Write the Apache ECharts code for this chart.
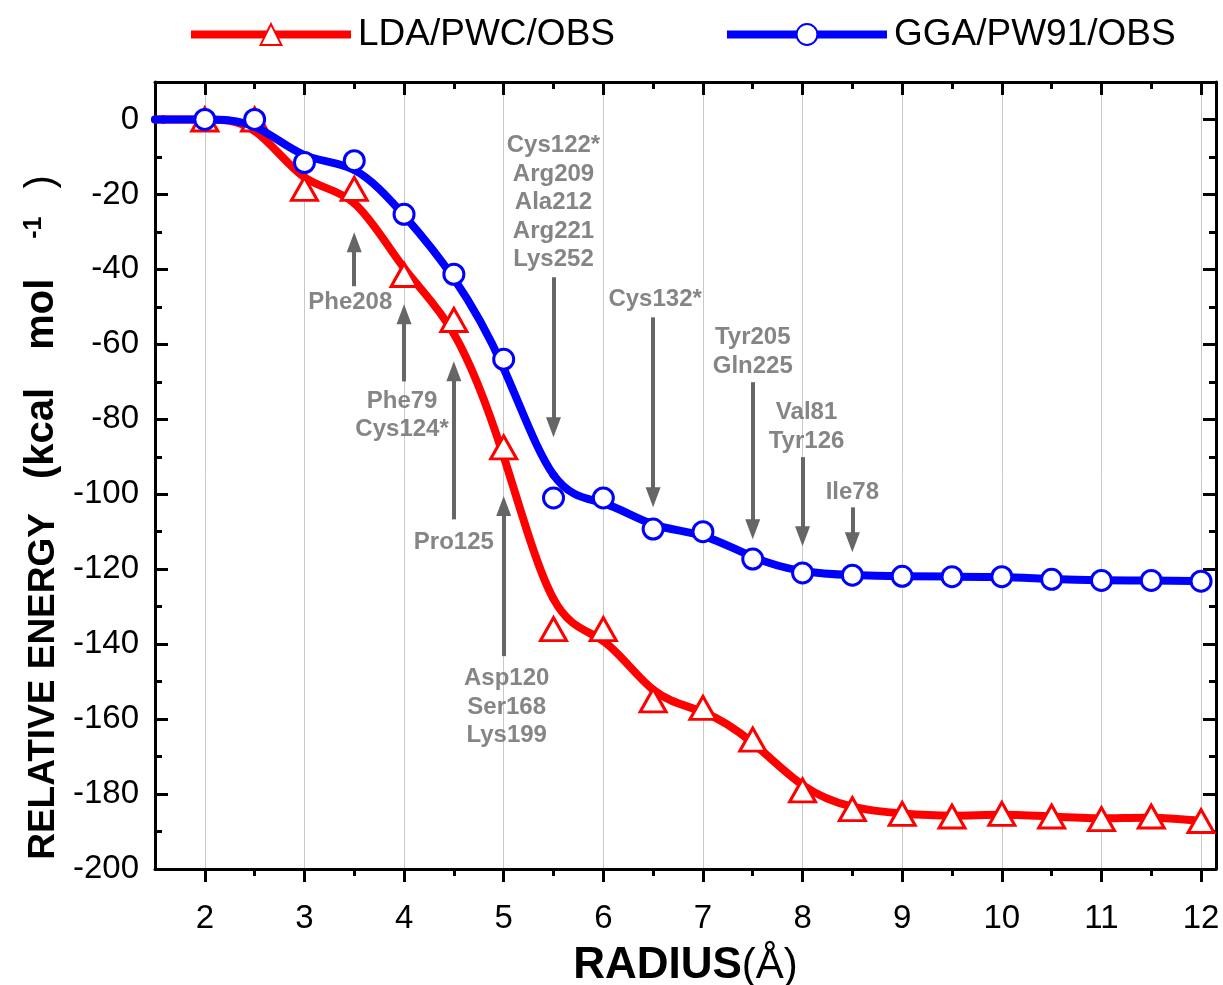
<!DOCTYPE html>
<html>
<head>
<meta charset="utf-8">
<title>Relative energy vs radius</title>
<script src="https://cdn.jsdelivr.net/npm/echarts@6/dist/echarts.min.js"></script>
<style>
  html, body { margin: 0; padding: 0; background: #fff; }
  #chart { width: 1223px; height: 985px; }
</style>
</head>
<body>
<div id="chart"></div>
<script>
// Shell radius (Å) and relative energies (kcal/mol) for the two functionals
const radius = [2, 2.5, 3, 3.5, 4, 4.5, 5, 5.5, 6, 6.5, 7, 7.5, 8, 8.5, 9, 9.5, 10, 10.5, 11, 11.5, 12];
const ldaEnergy = [0, 0, -18.5, -18.5, -41.5, -53.5, -87.5, -136, -136, -155, -157, -165.5, -179, -184, -185.3, -186, -185.3, -186, -186.7, -186, -187.2];
const ggaEnergy = [0, 0, -11.5, -11, -25.3, -41.3, -64, -101, -101, -109.3, -110, -117.3, -121, -121.6, -121.9, -122, -122, -122.7, -123, -123, -123.2];
// both curves start flat at the left edge of the axis
const curveStart = 1.5;

const seriesNames = ['LDA/PWC/OBS', 'GGA/PW91/OBS'];
const RED = '#ff0000', BLUE = '#0000ff', GREY = '#666666';

// axis ticks
const xMajorTicks = [2, 3, 4, 5, 6, 7, 8, 9, 10, 11, 12];
const xMinorTicks = [2.5, 3.5, 4.5, 5.5, 6.5, 7.5, 8.5, 9.5, 10.5, 11.5];
const yMajorTicks = [-200, -180, -160, -140, -120, -100, -80, -60, -40, -20, 0];
const yMinorTicks = [-190, -170, -150, -130, -110, -90, -70, -50, -30, -10];

// residues entering the shell: arrow radius, arrow tail/tip energy, label anchor
const siteLabels = ['Phe208', 'Phe79\nCys124*', 'Pro125', 'Asp120\nSer168\nLys199',
  'Cys122*\nArg209\nAla212\nArg221\nLys252', 'Cys132*', 'Tyr205\nGln225', 'Val81\nTyr126', 'Ile78'];
const siteRadius = [3.5, 4, 4.5, 5, 5.5, 6.5, 7.5, 8, 8.5];
const arrowTail = [-44.5, -69.9, -106.7, -143.2, -42.1, -52.8, -70.1, -90.1, -103.5];
const arrowTip = [-30.1, -49.3, -64.5, -100.5, -84.8, -103.5, -112, -113.9, -115.5];
const labelRadius = [3.46, 3.98, 4.5, 5.03, 5.5, 6.52, 7.5, 8.04, 8.5];
const labelEnergy = [-48.8, -79, -112.8, -156.8, -22.2, -48, -62, -82, -99.5];

const FONT = "'Liberation Sans', Arial, sans-serif";
const X_MIN = 1.5, X_MAX = 12.15, Y_MIN = -200, Y_MAX = 10;
const ARROW_HEAD = [15, 20];            // px
const PX_PER_UNIT = 787 / (Y_MAX - Y_MIN); // grid height / energy span
const headHalf = ARROW_HEAD[1] / 2 / PX_PER_UNIT;

function curvePoints(values) {
  return [[curveStart, values[0]]].concat(radius.map((r, i) => [r, values[i]]));
}
function markerPoints(values) {
  return radius.map((r, i) => [r, values[i]]);
}

// Uniform cubic B-spline with the data points as control points
// (ends clamped), drawn as a chain of Bezier segments.
function bSplineRenderer(points, color) {
  return function (params, api) {
    if (params.dataIndex !== 0) return null;
    const p = points.map(d => api.coord(d));
    const c = [p[0], p[0]].concat(p, [p[p.length - 1], p[p.length - 1]]);
    const children = [];
    for (let i = 1; i < c.length - 2; i++) {
      const a = c[i - 1], b = c[i], d = c[i + 1], e = c[i + 2];
      children.push({
        type: 'bezierCurve',
        shape: {
          x1: (a[0] + 4 * b[0] + d[0]) / 6, y1: (a[1] + 4 * b[1] + d[1]) / 6,
          cpx1: (2 * b[0] + d[0]) / 3, cpy1: (2 * b[1] + d[1]) / 3,
          cpx2: (b[0] + 2 * d[0]) / 3, cpy2: (b[1] + 2 * d[1]) / 3,
          x2: (b[0] + 4 * d[0] + e[0]) / 6, y2: (b[1] + 4 * d[1] + e[1]) / 6
        },
        style: { stroke: color, lineWidth: 8, fill: null, lineCap: 'round', lineJoin: 'round' },
        silent: true
      });
    }
    return { type: 'group', children: children };
  };
}

const arrows = siteRadius.map((r, i) => {
  const dir = arrowTip[i] > arrowTail[i] ? 1 : -1;
  return [{ coord: [r, arrowTail[i]] }, { coord: [r, arrowTip[i] - dir * headHalf] }];
});
const siteText = siteLabels.map((t, i) => [labelRadius[i], labelEnergy[i], t]);

const axisLineStyle = { show: true, onZero: false, lineStyle: { color: '#000', width: 3 } };
const tickStyle = { color: '#000', width: 3 };

function xAxisOf(position, ticks, len, inside, extra) {
  return Object.assign({
    type: 'value', min: X_MIN, max: X_MAX, position: position,
    axisLine: axisLineStyle,
    axisTick: { show: true, customValues: ticks, length: len, inside: inside, lineStyle: tickStyle },
    axisLabel: { show: false },
    splitLine: { show: false }
  }, extra || {});
}
function yAxisOf(position, ticks, len, extra) {
  return Object.assign({
    type: 'value', min: Y_MIN, max: Y_MAX, position: position,
    axisLine: axisLineStyle,
    axisTick: { show: true, customValues: ticks, length: len, inside: true, lineStyle: tickStyle },
    axisLabel: { show: false },
    splitLine: { show: false }
  }, extra || {});
}

const ldaCurve = curvePoints(ldaEnergy);
const ggaCurve = curvePoints(ggaEnergy);

const chart = echarts.init(document.getElementById('chart'), null, { renderer: 'canvas' });

chart.setOption({
  backgroundColor: '#fff',
  animation: false,
  textStyle: { fontFamily: FONT },
  grid: { left: 155, right: 7, top: 82, bottom: 116, containLabel: false, outerBoundsMode: 'none' },
  legend: {
    data: [
      { name: seriesNames[0], lineStyle: { color: RED, width: 8, opacity: 1 } },
      { name: seriesNames[1], lineStyle: { color: BLUE, width: 8, opacity: 1 } }
    ],
    left: 182, top: 11,
    itemWidth: 160, itemHeight: 26, itemGap: 108,
    textStyle: { fontSize: 37, color: '#000', fontFamily: FONT, padding: [0, 0, 0, 2] }
  },
  xAxis: [
    xAxisOf('bottom', xMajorTicks, 13, false, {
      axisLabel: { show: true, customValues: xMajorTicks, fontSize: 33, color: '#000', margin: 33, fontFamily: FONT },
      splitLine: { show: true, lineStyle: { color: '#c8c8c8', width: 1 } },
      name: '{b|RADIUS}{n|(Å)}',
      nameLocation: 'middle', nameGap: 75,
      nameTextStyle: {
        rich: {
          b: { fontSize: 44, fontWeight: 'bold', color: '#000', fontFamily: FONT },
          n: { fontSize: 42, color: '#000', fontFamily: FONT }
        }
      }
    }),
    xAxisOf('bottom', xMinorTicks, 7, false, { axisLine: { show: false, onZero: false } }),
    xAxisOf('top', xMajorTicks, 13, true),
    xAxisOf('top', xMinorTicks, 7, true, { axisLine: { show: false, onZero: false } })
  ],
  yAxis: [
    yAxisOf('left', yMajorTicks, 13, {
      axisLabel: { show: true, customValues: yMajorTicks, fontSize: 33, color: '#000', margin: 16, fontFamily: FONT },
      name: '{b|RELATIVE ENERGY}{k|(kcal}{m|mol}{s|-1}{p|)}',
      nameLocation: 'middle', nameRotate: 90, nameGap: 92,
      nameTextStyle: {
        rich: {
          b: { fontSize: 37, fontWeight: 'bold', color: '#000', fontFamily: FONT, verticalAlign: 'bottom' },
          k: { fontSize: 40, fontWeight: 'bold', color: '#000', fontFamily: FONT, verticalAlign: 'bottom', padding: [0, 0, 0, 34] },
          m: { fontSize: 40, fontWeight: 'bold', color: '#000', fontFamily: FONT, verticalAlign: 'bottom', padding: [0, 0, 0, 38] },
          s: { fontSize: 25, fontWeight: 'bold', color: '#000', fontFamily: FONT, verticalAlign: 'top', padding: [0, 0, 0, 40] },
          p: { fontSize: 40, color: '#000', fontFamily: FONT, verticalAlign: 'bottom', padding: [0, 84, 0, 28] }
        }
      }
    }),
    yAxisOf('left', yMinorTicks, 7, { axisLine: { show: false, onZero: false } }),
    yAxisOf('right', yMajorTicks, 13),
    yAxisOf('right', yMinorTicks, 7, { axisLine: { show: false, onZero: false } })
  ],
  series: [
    {
      name: 'lda-curve', type: 'custom',
      data: ldaCurve,
      encode: { x: 0, y: 1 },
      renderItem: bSplineRenderer(ldaCurve, RED),
      z: 2
    },
    {
      name: seriesNames[0], type: 'line',
      data: markerPoints(ldaEnergy),
      symbol: 'triangle', symbolSize: [26, 23],
      lineStyle: { color: RED, width: 8, opacity: 0 },
      itemStyle: { color: '#ffffff', borderColor: RED, borderWidth: 3 },
      z: 3
    },
    {
      name: 'gga-curve', type: 'custom',
      data: ggaCurve,
      encode: { x: 0, y: 1 },
      renderItem: bSplineRenderer(ggaCurve, BLUE),
      z: 4
    },
    {
      name: seriesNames[1], type: 'line',
      data: markerPoints(ggaEnergy),
      symbol: 'circle', symbolSize: 20,
      lineStyle: { color: BLUE, width: 8, opacity: 0 },
      itemStyle: { color: '#ffffff', borderColor: BLUE, borderWidth: 3 },
      z: 5
    },
    {
      // residue labels with their arrows
      name: 'sites', type: 'scatter',
      data: siteText,
      symbolSize: 1,
      itemStyle: { color: 'rgba(0,0,0,0)' },
      label: {
        show: true, position: 'inside',
        formatter: p => p.value[2],
        fontSize: 24, fontWeight: 'bold', lineHeight: 28.5,
        color: GREY, fontFamily: FONT, align: 'center', verticalAlign: 'middle'
      },
      markLine: {
        silent: true,
        symbol: ['none', 'triangle'],
        symbolSize: ARROW_HEAD,
        label: { show: false },
        lineStyle: { color: GREY, width: 4, type: 'solid' },
        itemStyle: { color: GREY },
        data: arrows
      },
      z: 6
    }
  ]
});
</script>
</body>
</html>
